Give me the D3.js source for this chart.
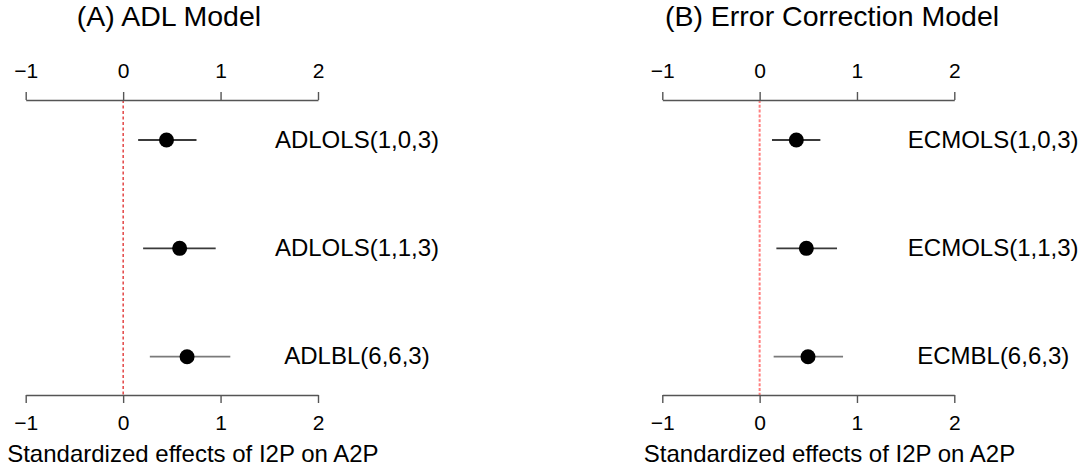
<!DOCTYPE html>
<html>
<head>
<meta charset="utf-8">
<script src="https://cdn.jsdelivr.net/npm/d3@7"></script>
<style>
  html, body { margin: 0; padding: 0; background: #fff; }
  svg { display: block; }
  text { font-family: "Liberation Sans", Arial, Helvetica, sans-serif; fill: #000; }
  .tick text { font-size: 21px !important; }
</style>
</head>
<body>
<svg id="chart" width="1084" height="472"></svg>
<script>
// ---- data ----
const ticks = [-1, 0, 1, 2];

const adlLabels = ["ADLOLS(1,0,3)", "ADLOLS(1,1,3)", "ADLBL(6,6,3)"];
const adlEst    = [0.445, 0.58, 0.656];
const adlLo     = [0.154, 0.205, 0.274];
const adlHi     = [0.753, 0.95, 1.10];

const ecmLabels = ["ECMOLS(1,0,3)", "ECMOLS(1,1,3)", "ECMBL(6,6,3)"];
const ecmEst    = [0.377, 0.48, 0.497];
const ecmLo     = [0.127, 0.172, 0.144];
const ecmHi     = [0.624, 0.795, 0.857];

const panelTitles = ["(A) ADL Model", "(B) Error Correction Model"];
const xLabel = "Standardized effects of I2P on A2P";

// ---- layout ----
const svg = d3.select("#chart");
const barColors = ["#3a3a3a", "#3a3a3a", "#7a7a7a"];

const panels = [
  { title: panelTitles[0], titleX: 169, range: [25.7, 318], labels: adlLabels, est: adlEst, lo: adlLo, hi: adlHi,
    refColor: "#d80000", refWidth: 1.1, refDash: "3,2.5" },
  { title: panelTitles[1], titleX: 832, range: [662.3, 954.3], labels: ecmLabels, est: ecmEst, lo: ecmLo, hi: ecmHi,
    refColor: "#ff7f7f", refWidth: 2, refDash: "3,1.8" }
];

const topY = 100, botY = 395;

panels.forEach(p => {
  const x = d3.scaleLinear().domain([-1, 2]).range(p.range);
  const y = d3.scalePoint().domain(p.labels).range([140, 356.7]);
  const g = svg.append("g");

  // title
  g.append("text")
    .attr("x", p.titleX).attr("y", 25.5)
    .attr("text-anchor", "middle")
    .style("font-size", "28.5px")
    .text(p.title);

  // reference line at 0
  g.append("line")
    .attr("x1", x(0)).attr("x2", x(0))
    .attr("y1", topY).attr("y2", botY)
    .attr("stroke", p.refColor)
    .attr("stroke-width", p.refWidth)
    .attr("stroke-dasharray", p.refDash);

  // axes
  const fmt = d => d < 0 ? "\u2212" + Math.abs(d) : String(d);
  const styleAxis = sel => {
    sel.attr("font-size", 21).attr("font-family", '"Liberation Sans", Arial, sans-serif');
    sel.selectAll("path, line").attr("stroke", "#555").attr("stroke-width", 1.4);
    sel.selectAll("text").attr("font-size", 21).attr("fill", "#000");
  };
  g.append("g").attr("transform", `translate(0,${topY})`)
    .call(d3.axisTop(x).tickValues(ticks).tickSize(8).tickSizeOuter(0).tickPadding(14).tickFormat(fmt))
    .call(styleAxis);
  g.append("g").attr("transform", `translate(0,${botY})`)
    .call(d3.axisBottom(x).tickValues(ticks).tickSize(8).tickSizeOuter(0).tickPadding(12).tickFormat(fmt))
    .call(styleAxis);

  // x label
  g.append("text")
    .attr("x", x(-1) - 18.5).attr("y", 462)
    .attr("text-anchor", "start")
    .style("font-size", "24px")
    .text(xLabel);

  // error bars
  g.selectAll(".ci").data(p.labels).enter().append("line")
    .attr("x1", (d, i) => x(p.lo[i])).attr("x2", (d, i) => x(p.hi[i]))
    .attr("y1", d => y(d)).attr("y2", d => y(d))
    .attr("stroke", (d, i) => barColors[i])
    .attr("stroke-width", 1.8);

  // points
  g.selectAll(".pt").data(p.labels).enter().append("circle")
    .attr("cx", (d, i) => x(p.est[i])).attr("cy", d => y(d))
    .attr("r", 7.5).attr("fill", "#000");

  // labels
  g.selectAll(".lab").data(p.labels).enter().append("text")
    .attr("x", x(2.4)).attr("y", d => y(d) + 7.5)
    .attr("text-anchor", "middle")
    .style("font-size", "24px")
    .text(d => d);
});
</script>
</body>
</html>
